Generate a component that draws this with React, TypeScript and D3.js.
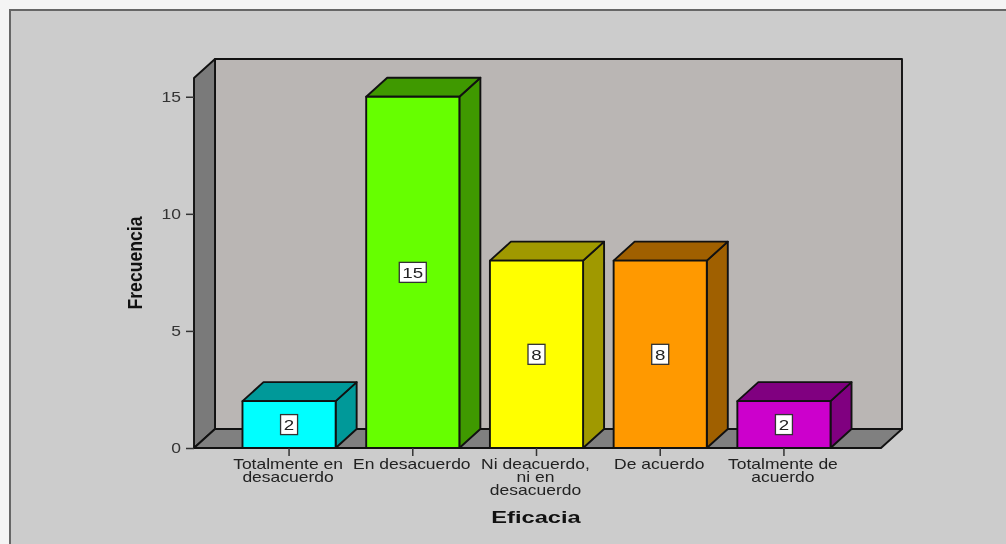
import { useEffect, useRef } from "react";
import * as d3 from "d3";

const categories = ["Totalmente en desacuerdo", "En desacuerdo", "Ni deacuerdo, ni en desacuerdo", "De acuerdo", "Totalmente de acuerdo"];
const categoryLines = [["Totalmente en", "desacuerdo"], ["En desacuerdo"], ["Ni deacuerdo,", "ni en", "desacuerdo"], ["De acuerdo"], ["Totalmente de", "acuerdo"]];
const values = [2, 15, 8, 8, 2];
const frontColors = ["#00FFFF", "#66FF00", "#FFFF00", "#FF9900", "#CC00CC"];
const sideColors = ["#009999", "#3F9900", "#A09900", "#A06000", "#800080"];
const yTicks = [0, 5, 10, 15];

const width = 1006;
const height = 544;
const depthX = 21;
const depthY = 19;
const font = "'Liberation Sans', Arial, sans-serif";
const textScale = 1.25;

export default function App() {
    const svgRef = useRef(null);

    useEffect(() => {
        const svg = d3.select(svgRef.current);
        svg.selectAll("*").remove();

        const left = 194, right = 881, bottom = 448, top = 78;

        const x = d3.scaleBand()
            .domain(categories)
            .range([left - 1, right - 1])
            .paddingInner(0.247)
            .paddingOuter(0.4);
        const y = d3.scaleLinear().domain([0, 15.8]).range([bottom, top]);

        // panel and frame
        svg.append("rect").attr("width", width).attr("height", height).attr("fill", "#F4F4F4");
        svg.append("rect").attr("x", 10).attr("y", 10).attr("width", width + 10).attr("height", height + 10)
            .attr("fill", "#CCCCCC").attr("stroke", "#666").attr("stroke-width", 2);

        const line = d3.line();
        const poly = (pts, fill) => svg.append("path")
            .attr("d", line(pts) + "Z")
            .attr("fill", fill)
            .attr("stroke", "#111")
            .attr("stroke-width", 1.9)
            .attr("stroke-linejoin", "round");

        // walls
        poly([[left + depthX, top - depthY], [right + depthX, top - depthY], [right + depthX, bottom - depthY], [left + depthX, bottom - depthY]], "#BAB6B4");
        poly([[left, top], [left + depthX, top - depthY], [left + depthX, bottom - depthY], [left, bottom]], "#7A7A7A");
        poly([[left, bottom], [left + depthX, bottom - depthY], [right + depthX, bottom - depthY], [right, bottom]], "#808080");

        // bars
        categories.forEach((c, i) => {
            const x0 = x(c), x1 = x0 + x.bandwidth(), yv = y(values[i]);
            poly([[x1, yv], [x1 + depthX, yv - depthY], [x1 + depthX, bottom - depthY], [x1, bottom]], sideColors[i]);
            poly([[x0, yv], [x0 + depthX, yv - depthY], [x1 + depthX, yv - depthY], [x1, yv]], sideColors[i]);
            poly([[x0, yv], [x1, yv], [x1, bottom], [x0, bottom]], frontColors[i]);
        });

        // value labels
        categories.forEach((c, i) => {
            const cx = x(c) + x.bandwidth() / 2, cy = y(values[i] / 2);
            const w = values[i] >= 10 ? 27 : 17;
            svg.append("rect").attr("x", cx - w / 2).attr("y", cy - 10).attr("width", w).attr("height", 20)
                .attr("fill", "#FFF").attr("stroke", "#333").attr("stroke-width", 1.3);
            svg.append("text")
                .attr("transform", `translate(${cx},${cy + 5.5}) scale(${textScale},1)`)
                .attr("text-anchor", "middle")
                .style("font", `15px ${font}`)
                .attr("fill", "#222")
                .text(values[i]);
        });

        // y axis
        const yAxis = svg.append("g").call(d3.axisLeft(y).tickValues(yTicks).tickSize(8).tickPadding(3))
            .attr("transform", `translate(${left},0)`);
        yAxis.select(".domain").remove();
        yAxis.selectAll("line").attr("stroke", "#333").attr("stroke-width", 1.5);
        yAxis.selectAll("text")
            .attr("x", -13 / textScale)
            .attr("transform", `scale(${textScale},1)`)
            .attr("fill", "#333")
            .style("font", `14px ${font}`);

        // x axis
        const xAxis = svg.append("g").call(d3.axisBottom(x).tickSize(8).tickFormat(() => ""))
            .attr("transform", `translate(0,${bottom})`);
        xAxis.select(".domain").remove();
        xAxis.selectAll("line").attr("stroke", "#333").attr("stroke-width", 1.5);

        categories.forEach((c, i) => {
            const cx = x(c) + x.bandwidth() / 2;
            categoryLines[i].forEach((t, j) => {
                svg.append("text")
                    .attr("transform", `translate(${cx - 1},${469 + j * 13}) scale(${textScale},1)`)
                    .attr("text-anchor", "middle")
                    .attr("fill", "#222")
                    .style("font", `14px ${font}`)
                    .text(t);
            });
        });

        // axis titles
        svg.append("text")
            .attr("transform", `translate(536,523) scale(1.48,1)`)
            .attr("text-anchor", "middle")
            .attr("fill", "#111")
            .style("font", `bold 16px ${font}`)
            .text("Eficacia");
        svg.append("text")
            .attr("transform", `translate(142,263) rotate(-90) scale(0.84,1)`)
            .attr("text-anchor", "middle")
            .attr("fill", "#111")
            .style("font", `bold 21px ${font}`)
            .text("Frecuencia");
    }, []);

    return <svg ref={svgRef} width={width} height={height} style={{ position: "fixed", left: 0, top: 0, display: "block", filter: "blur(0.4px)" }} />;
}
